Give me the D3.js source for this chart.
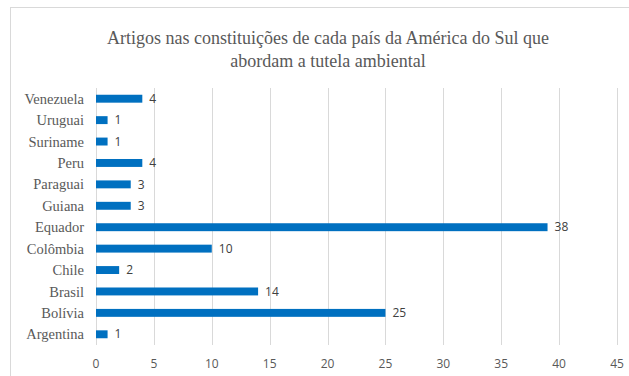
<!DOCTYPE html>
<html>
<head>
<meta charset="utf-8">
<script src="https://cdn.jsdelivr.net/npm/d3@7"></script>
<style>
  body { margin: 0; background: #fff; }
</style>
</head>
<body>
<div id="chart"></div>
<script>
// countries, bottom to top as in the chart
var countries = ["Argentina", "Bolívia", "Brasil", "Chile", "Colômbia", "Equador",
                 "Guiana", "Paraguai", "Peru", "Suriname", "Uruguai", "Venezuela"];
// bar lengths as drawn (Equador bar reaches 39)
var barValues = [1, 25, 14, 2, 10, 39, 3, 3, 4, 1, 1, 4];
// numbers printed next to the bars
var labelValues = [1, 25, 14, 2, 10, 38, 3, 3, 4, 1, 1, 4];
var xTicks = [0, 5, 10, 15, 20, 25, 30, 35, 40, 45];
var titleLines = ["Artigos nas constituições de cada país da América do Sul que",
                  "abordam a tutela ambiental"];

var width = 629, height = 376;
var plotLeft = 96, plotRight = 617, plotTop = 88, plotBottom = 345;

var svg = d3.select("#chart").append("svg")
    .attr("width", width).attr("height", height);

// chart frame
svg.append("rect")
    .attr("x", 10.5).attr("y", 7.5)
    .attr("width", 640).attr("height", 400)
    .attr("fill", "#fff").attr("stroke", "#d9d9d9");

svg.append("g")
    .attr("font-family", "'Liberation Serif', 'Times New Roman', serif")
    .attr("font-size", 18)
    .attr("fill", "#595959")
    .attr("text-anchor", "middle")
  .selectAll("text")
  .data(titleLines)
  .join("text")
    .attr("x", 328)
    .attr("y", (d, i) => 44 + i * 23)
    .text(d => d);

var x = d3.scaleLinear().domain([0, 45]).range([plotLeft, plotRight]);
var y = d3.scaleBand()
    .domain(countries.slice().reverse())
    .range([plotTop, plotBottom])
    .paddingInner(0.63).paddingOuter(0.315);

// gridlines
svg.append("g")
  .selectAll("line")
  .data(xTicks)
  .join("line")
    .attr("x1", d => Math.round(x(d)) + 0.5)
    .attr("x2", d => Math.round(x(d)) + 0.5)
    .attr("y1", plotTop).attr("y2", plotBottom)
    .attr("stroke", "#d9d9d9").attr("stroke-width", 1);

// x tick labels
svg.append("g")
    .attr("font-family", "'Open Sans', 'Liberation Sans', sans-serif")
    .attr("font-size", 12)
    .attr("fill", "#595959")
    .attr("text-anchor", "middle")
  .selectAll("text")
  .data(xTicks)
  .join("text")
    .attr("x", d => x(d))
    .attr("y", 368)
    .text(d => d);

// category labels
svg.append("g")
    .attr("font-family", "'Liberation Serif', 'Times New Roman', serif")
    .attr("font-size", 14.5)
    .attr("fill", "#595959")
    .attr("text-anchor", "end")
  .selectAll("text")
  .data(countries)
  .join("text")
    .attr("x", 84)
    .attr("y", d => y(d) + y.bandwidth() / 2)
    .attr("dy", "0.35em")
    .text(d => d);

// bars
svg.append("g")
  .selectAll("rect")
  .data(countries)
  .join("rect")
    .attr("x", x(0))
    .attr("y", d => y(d))
    .attr("width", (d, i) => x(barValues[i]) - x(0))
    .attr("height", y.bandwidth())
    .attr("fill", "#0070c0");

// data labels
svg.append("g")
    .attr("font-family", "'Open Sans', 'Liberation Sans', sans-serif")
    .attr("font-size", 12)
    .attr("fill", "#404040")
  .selectAll("text")
  .data(countries)
  .join("text")
    .attr("x", (d, i) => x(barValues[i]) + 7)
    .attr("y", d => y(d) + y.bandwidth() / 2)
    .attr("dy", "0.35em")
    .text((d, i) => labelValues[i]);
</script>
</body>
</html>
